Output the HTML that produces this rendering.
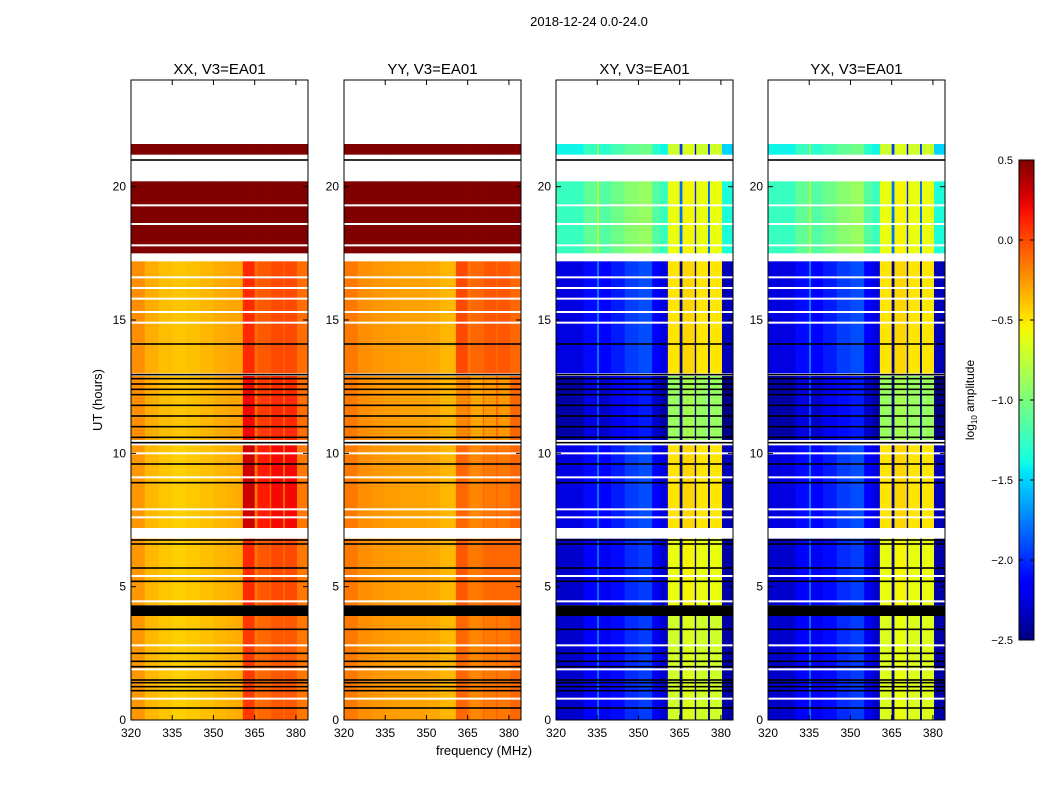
<!DOCTYPE html>
<html><head><meta charset="utf-8">
<style>
body{margin:0;background:#fff;width:1050px;height:800px;overflow:hidden}
svg text{font-family:"Liberation Sans",sans-serif;fill:#000}
</style></head>
<body>
<svg id="fig" width="1050" height="800" xmlns="http://www.w3.org/2000/svg">
<text x="589" y="26" font-size="13" text-anchor="middle">2018-12-24 0.0-24.0</text>
<text x="484" y="755" font-size="13" text-anchor="middle">frequency (MHz)</text>
<text x="0" y="0" font-size="13" text-anchor="middle" transform="translate(102,400) rotate(-90)">UT (hours)</text>
</svg>
<script>
// ---- data ----
const panels = ["XX","YY","XY","YX"];
const freqEdges = [320,325,330,335,335.6,340,345,350,355,358,360.7,365,366,370.5,371,375.3,376,380.4,384.4];
const isBand    = [0,0,0,0,0,0,0,0,0,0,1,0,1,0,1,0,1,0];
const offXX = [0.1,0.0,-0.05,-0.08,-0.08,-0.06,-0.03,0.0,0.02,0.03,0.1,0.2,-0.05,0.25,0,0.25,0,0.2];
const offYY = [0.15,0.08,0.05,0.03,0.03,0.02,0.02,0.0,-0.05,-0.05,0.05,0.15,-0.05,0.2,0,0.2,0,0.2];
const offXY = [-0.15,-0.15,0.0,0.4,-0.05,0.05,0.15,0.2,-0.05,-0.15,0,-0.7,0.05,-0.9,0,-0.7,0,-0.25];
const offYX = [-0.15,-0.15,0.0,0.4,-0.05,0.05,0.15,0.2,-0.05,-0.15,0,-0.7,0.05,-0.9,0,-0.7,0,-0.25];
const blockStart = [0.0,4.3,7.2,10.5,13.0,17.5,21.2];
const blockEnd   = [3.9,6.8,10.3,12.9,17.2,20.2,21.6];
const baseXX = [-0.35,-0.35,-0.35,-0.32,-0.32,0.6,0.6];
const rfiXX  = [-0.05,0.0,0.2,0.1,0.0,0.6,0.6];
const baseYY = [-0.3,-0.3,-0.3,-0.3,-0.3,0.6,0.6];
const rfiYY  = [-0.15,-0.1,-0.15,-0.25,-0.05,0.6,0.6];
const baseXY = [-2.15,-2.15,-2.1,-2.25,-2.1,-1.1,-1.25];
const rfiXY  = [-0.7,-0.6,-0.5,-0.9,-0.5,-0.6,-0.7];
const baseYX = [-2.15,-2.15,-2.1,-2.25,-2.1,-1.1,-1.25];
const rfiYX  = [-0.65,-0.6,-0.5,-0.9,-0.5,-0.6,-0.7];
const blackBlockStart = [3.9];
const blackBlockEnd = [4.3];
const whiteLines = [0.8,1.9,2.8,4.45,5.4,7.6,7.9,9.1,10.0,14.9,15.3,15.8,16.2,16.6,17.8,18.6,19.3,20.8];
const blackLines = [0.45,1.1,1.25,1.4,1.5,2.0,2.2,2.5,3.4,5.2,5.7,6.6,6.75,8.9,9.6,10.4,10.6,11.0,11.4,11.8,12.2,12.4,12.6,12.8,12.95,14.1,21.0];
const xTicks = [320,335,350,365,380];
const yTicks = [0,5,10,15,20];
const cbTicks = [0.5,0.0,-0.5,-1.0,-1.5,-2.0,-2.5];
// ---- helpers ----
const NS="http://www.w3.org/2000/svg";
const svg=document.getElementById("fig");
function mk(tag,attrs,parent){const e=document.createElementNS(NS,tag);for(const k in attrs)e.setAttribute(k,attrs[k]);(parent||svg).appendChild(e);return e;}
function interp(pts,t){for(let i=1;i<pts.length;i++){if(t<=pts[i][0]){const a=pts[i-1],b=pts[i];return a[1]+(b[1]-a[1])*(t-a[0])/(b[0]-a[0]);}}return pts[pts.length-1][1];}
const JR=[[0,0],[0.35,0],[0.66,1],[0.89,1],[1,0.5]];
const JG=[[0,0],[0.125,0],[0.375,1],[0.64,1],[0.91,0],[1,0]];
const JB=[[0,0.5],[0.11,1],[0.34,1],[0.65,0],[1,0]];
function jet(v){let t=(v+2.5)/3;t=Math.max(0,Math.min(1,t));
 const c=x=>Math.round(255*x);
 return `rgb(${c(interp(JR,t))},${c(interp(JG,t))},${c(interp(JB,t))})`;}
const panelX=[131,344,556,768], PW=177, PT=80, PH=640;
const fMin=320,fMax=384.4,tMax=24;
const offs={XX:offXX,YY:offYY,XY:offXY,YX:offYX};
const bases={XX:baseXX,YY:baseYY,XY:baseXY,YX:baseYX};
const rfis={XX:rfiXX,YY:rfiYY,XY:rfiXY,YX:rfiYX};
panels.forEach((p,pi)=>{
 const x0=panelX[pi];
 const xs=f=>x0+(f-fMin)/(fMax-fMin)*PW;
 const ys=h=>PT+PH-h/tMax*PH;
 const g=mk("g",{});
 
 
 mk("rect",{x:x0,y:PT,width:PW,height:PH,fill:"#fff"},g);
 for(let b=0;b<blockStart.length;b++){
  for(let f=0;f<isBand.length;f++){
   const v=(isBand[f]?rfis[p][b]:bases[p][b])+offs[p][f];
   const r=mk("rect",{x:xs(freqEdges[f]),y:ys(blockEnd[b]),width:xs(freqEdges[f+1])-xs(freqEdges[f])+0.3,height:ys(blockStart[b])-ys(blockEnd[b]),fill:jet(v)},g);
   
   
  }
 }
 blackBlockStart.forEach((s,i)=>{const l=mk("rect",{x:x0,y:ys(blackBlockEnd[i]),width:PW,height:ys(s)-ys(blackBlockEnd[i]),fill:"#000"},g);
  
  });
 whiteLines.forEach(h=>{const l=mk("rect",{x:x0,y:ys(h)-1,width:PW,height:2,fill:"#fff"},g);
  
  });
 blackLines.forEach(h=>{const l=mk("rect",{x:x0,y:ys(h)-0.8,width:PW,height:1.6,fill:"#000"},g);
  
  });
 mk("rect",{x:x0,y:PT,width:PW,height:PH,fill:"none",stroke:"#000","stroke-width":1},g);
 const t=mk("text",{x:x0+PW/2,y:74,"font-size":15,"text-anchor":"middle"},g);
 t.textContent=p+", V3=EA01";
 
 
 xTicks.forEach(v=>{const x=xs(v);
  mk("line",{x1:x,x2:x,y1:PT+PH,y2:PT+PH-5,stroke:"#000"},g);
  mk("line",{x1:x,x2:x,y1:PT,y2:PT+5,stroke:"#000"},g);
  const tt=mk("text",{x:x,y:PT+PH+17,"font-size":12,"text-anchor":"middle"},g);tt.textContent=v;
  
  });
 yTicks.forEach(v=>{const y=ys(v);
  mk("line",{x1:x0,x2:x0+5,y1:y,y2:y,stroke:"#000"},g);
  mk("line",{x1:x0+PW,x2:x0+PW-5,y1:y,y2:y,stroke:"#000"},g);
  const tt=mk("text",{x:x0-5,y:y+4,"font-size":12,"text-anchor":"end"},g);tt.textContent=v;
  
  });
});
// colorbar
const cbX=1019,cbW=15,cbT=160,cbH=480,cbMax=0.5,cbMin=-2.5;
const defs=mk("defs",{});
const grad=mk("linearGradient",{id:"jetg",x1:0,y1:1,x2:0,y2:0},defs);
for(let i=0;i<=40;i++){const v=cbMin+(cbMax-cbMin)*i/40;mk("stop",{offset:i/40,"stop-color":jet(v)},grad);}
const cb=mk("rect",{x:cbX,y:cbT,width:cbW,height:cbH,fill:"url(#jetg)",stroke:"#000"});


cbTicks.forEach(v=>{const y=cbT+(cbMax-v)/(cbMax-cbMin)*cbH;
 mk("line",{x1:cbX,x2:cbX+4,y1:y,y2:y,stroke:"#000"});
 mk("line",{x1:cbX+cbW,x2:cbX+cbW-4,y1:y,y2:y,stroke:"#000"});
 const t=mk("text",{x:1013,y:y+4,"font-size":11,"text-anchor":"end"});
 t.textContent=(v<0?"\u2212":"")+Math.abs(v).toFixed(1);
 
 });
const cl=mk("text",{transform:"translate(974,400) rotate(-90)","font-size":12,"text-anchor":"middle"});
cl.innerHTML='log<tspan font-size="8" dy="3">10</tspan><tspan dy="-3"> amplitude</tspan>';


</script>
</body></html>
